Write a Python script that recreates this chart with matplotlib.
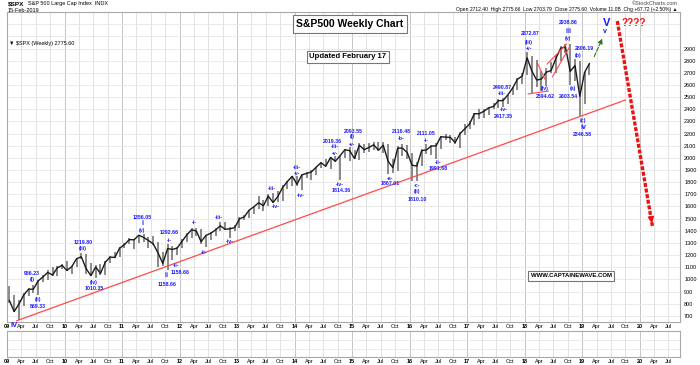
import matplotlib.pyplot as plt
import numpy as np

plt.rcParams['font.family'] = ['Liberation Sans', 'DejaVu Sans']

# monthly $SPX bars, Jan 2009 .. Feb 2019
highs = [943.85, 875.01, 832.98, 888.70, 930.17, 956.23, 996.68, 1039.47, 1080.15, 1101.36, 1113.69, 1130.38,
         1150.45, 1112.42, 1180.16, 1219.80, 1205.13, 1131.23, 1120.95, 1129.24, 1148.90, 1196.14, 1227.08, 1262.60,
         1302.67, 1344.07, 1332.28, 1366.00, 1370.58, 1345.20, 1356.48, 1307.38, 1229.29, 1292.66, 1277.55, 1269.37,
         1333.47, 1378.04, 1419.15, 1422.38, 1415.32, 1363.46, 1391.74, 1426.68, 1474.51, 1470.96, 1434.27, 1448.00,
         1509.94, 1530.94, 1570.28, 1597.35, 1687.18, 1654.19, 1698.78, 1709.67, 1729.86, 1775.22, 1813.55, 1849.44,
         1850.84, 1867.92, 1883.97, 1897.28, 1924.03, 1968.17, 1991.39, 2005.04, 2019.26, 2018.19, 2075.76, 2093.55,
         2064.43, 2119.59, 2117.52, 2125.92, 2134.72, 2129.87, 2132.82, 2112.66, 1993.48, 2094.32, 2116.48, 2104.27,
         2038.20, 1962.96, 2072.21, 2111.05, 2103.48, 2120.55, 2177.09, 2193.81, 2187.87, 2169.60, 2214.10, 2277.53,
         2300.99, 2371.54, 2400.98, 2398.16, 2418.71, 2453.82, 2484.04, 2490.87, 2519.44, 2582.98, 2657.74, 2694.97,
         2872.87, 2835.96, 2801.90, 2717.49, 2742.24, 2791.47, 2848.03, 2916.50, 2940.91, 2939.86, 2815.15, 2800.18,
         2708.95, 2775.66]
lows = [804.30, 734.52, 666.79, 783.32, 866.10, 888.86, 869.32, 978.51, 991.97, 1029.38, 1029.38, 1085.89,
        1071.59, 1044.50, 1101.91, 1170.69, 1040.78, 1028.33, 1010.91, 1039.70, 1039.70, 1131.87, 1173.00, 1186.60,
        1257.62, 1289.14, 1249.05, 1299.00, 1311.80, 1258.07, 1282.86, 1101.54, 1114.22, 1074.77, 1158.66, 1202.37,
        1258.86, 1310.73, 1340.03, 1357.38, 1291.98, 1266.74, 1325.41, 1354.65, 1396.56, 1403.28, 1343.35, 1398.11,
        1426.19, 1485.01, 1501.48, 1536.03, 1581.28, 1560.33, 1604.57, 1627.47, 1633.41, 1646.47, 1746.20, 1767.99,
        1770.45, 1737.92, 1834.44, 1814.36, 1859.79, 1915.98, 1930.67, 1904.78, 1964.04, 1820.66, 2001.01, 1972.56,
        1988.12, 1980.90, 2039.69, 2048.38, 2067.93, 2056.32, 2044.02, 1867.01, 1871.91, 1893.70, 2019.39, 1993.26,
        1812.29, 1810.10, 1937.09, 2033.80, 2025.91, 1991.68, 2074.02, 2147.58, 2119.12, 2114.72, 2083.79, 2187.44,
        2233.62, 2271.65, 2322.25, 2328.95, 2352.72, 2405.70, 2407.70, 2417.35, 2446.55, 2520.40, 2557.45, 2605.52,
        2682.36, 2532.69, 2585.89, 2553.80, 2594.62, 2698.95, 2698.95, 2796.34, 2864.12, 2603.54, 2631.09, 2346.58,
        2443.96, 2681.83]
closes = [825.88, 735.09, 797.87, 872.81, 919.14, 919.32, 987.48, 1020.62, 1057.08, 1036.19, 1095.63, 1115.10,
          1073.87, 1104.49, 1169.43, 1186.69, 1089.41, 1030.71, 1101.60, 1049.33, 1141.20, 1183.26, 1180.55, 1257.64,
          1286.12, 1327.22, 1325.83, 1363.61, 1345.20, 1320.64, 1292.28, 1218.89, 1131.42, 1253.30, 1246.96, 1257.60,
          1312.41, 1365.68, 1408.47, 1397.91, 1310.33, 1362.16, 1379.32, 1406.58, 1440.67, 1412.16, 1416.18, 1426.19,
          1498.11, 1514.68, 1569.19, 1597.57, 1630.74, 1606.28, 1685.73, 1632.97, 1681.55, 1756.54, 1805.81, 1848.36,
          1782.59, 1859.45, 1872.34, 1883.95, 1923.57, 1960.23, 1930.67, 2003.37, 1972.29, 2018.05, 2067.56, 2058.90,
          1994.99, 2104.50, 2067.89, 2085.51, 2107.39, 2063.11, 2103.84, 1972.18, 1920.03, 2079.36, 2080.41, 2043.94,
          1940.24, 1932.23, 2059.74, 2065.30, 2096.95, 2098.86, 2173.60, 2170.95, 2168.27, 2126.15, 2198.81, 2238.83,
          2278.87, 2363.64, 2362.72, 2384.20, 2411.80, 2423.41, 2470.30, 2471.65, 2519.36, 2575.26, 2647.58, 2673.61,
          2823.81, 2713.83, 2640.87, 2648.05, 2705.27, 2718.37, 2816.29, 2901.52, 2913.98, 2711.74, 2760.17, 2506.85,
          2704.10, 2775.60]

# Elliott wave labels: (year, price, text, fontsize)
wave_labels = [
    (2009.13, 618, "IV", 5.5), (2009.19, 519, "666.79", 3.8),
    (2009.44, 1045, "956.23", 3.8), (2009.44, 996, "(i)", 3.8),
    (2009.54, 832, "(ii)", 3.8), (2009.54, 774, "869.33", 3.8),
    (2010.32, 1300, "1219.80", 3.8), (2010.32, 1251, "(iii)", 3.8),
    (2010.51, 971, "(iv)", 3.8), (2010.51, 922, "1010.35", 3.8),
    (2011.35, 1506, "1356.05", 3.8), (2011.35, 1457, "i", 5), (2011.35, 1399, "(v)", 3.8),
    (2011.82, 1383, "1292.66", 3.8), (2011.82, 1317, "-i-", 3.8),
    (2011.77, 1029, "ii", 5), (2011.78, 955, "1158.66", 3.8),
    (2011.94, 1111, "-ii-", 3.8), (2012.01, 1054, "1158.66", 3.8),
    (2012.25, 1465, "-i-", 3.8), (2012.43, 1218, "-ii-", 3.8),
    (2012.69, 1506, "-iii-", 3.8), (2012.88, 1309, "-iv-", 3.8),
    (2013.61, 1744, "-iii-", 3.8), (2013.68, 1596, "-iv-", 3.8),
    (2014.04, 1917, "-iii-", 3.8), (2014.04, 1868, "-v-", 3.8),
    (2014.10, 1687, "-iv-", 3.8),
    (2014.65, 2131, "2019.36", 3.8), (2014.70, 2090, "-iii-", 3.8), (2014.71, 2040, "-v-", 3.8),
    (2014.79, 1777, "-iv-", 3.8), (2014.81, 1728, "1814.36", 3.8),
    (2015.02, 2221, "2093.55", 3.8), (2015.00, 2172, "(i)", 3.8), (2015.00, 2114, "-v-", 3.8),
    (2015.85, 2213, "2116.48", 3.8), (2015.85, 2156, "-b-", 3.8),
    (2015.66, 1827, "-a-", 3.8), (2015.66, 1786, "1867.01", 3.8),
    (2016.29, 2197, "2111.05", 3.8), (2016.29, 2139, "-i-", 3.8),
    (2016.13, 1769, "-c-", 3.8), (2016.13, 1720, "(ii)", 3.8), (2016.13, 1654, "1810.10", 3.8),
    (2016.50, 1958, "-ii-", 3.8), (2016.50, 1909, "1991.68", 3.8),
    (2017.61, 2583, "2490.87", 3.8), (2017.61, 2526, "-iii-", 3.8),
    (2017.63, 2394, "-iv-", 3.8), (2017.63, 2337, "2417.35", 3.8),
    (2018.10, 3027, "2872.87", 3.8), (2018.07, 2953, "(iii)", 3.8), (2018.07, 2904, "-v-", 3.8),
    (2018.34, 2567, "(iv)", 3.8), (2018.36, 2501, "2594.62", 3.8),
    (2018.76, 3110, "2938.86", 3.8), (2018.76, 3044, "iii", 5), (2018.76, 2986, "(v)", 3.8),
    (2019.03, 2904, "2806.19", 3.8), (2018.93, 2846, "(b)", 3.8),
    (2018.84, 2567, "(a)", 3.8), (2018.76, 2501, "2603.54", 3.8),
    (2019.02, 2304, "(c)", 3.8), (2019.02, 2254, "iv", 5), (2019.00, 2189, "2346.58", 3.8),
    (2019.42, 3110, "V", 8), (2019.40, 3036, "v", 5),
]

# trend line and wedge lines: ((year0, price0), (year1, price1))
support_line = ((2009.17, 660), (2019.75, 2476))
wedge_lines = [
    ((2018.06, 2526), (2018.41, 2550)),
    ((2018.22, 2781), (2018.36, 2641)),
    ((2018.39, 2772), (2018.73, 2937)),
    ((2018.48, 2665), (2018.77, 2904)),
]
green_arrow = ((2019.19, 2813), (2019.37, 3002))
red_arrow = ((2019.61, 3126), (2020.22, 1440))

years = list(range(2009, 2021))
month_names = ["Apr", "Jul", "Oct"]

t = 2009 + np.arange(len(closes)) / 12 + 1 / 24

fig = plt.figure(figsize=(7, 3.65), dpi=100)
ax = fig.add_axes([0.01, 0.118, 0.9614, 0.849])
ax2 = fig.add_axes([0.01, 0.022, 0.9614, 0.071])

xmin, xmax = 2009.0, 2020.70
tick_pos, tick_lab = [], []
for y in years:
    for q in range(4):
        pos = y + q * 0.25
        if pos > xmax:
            continue
        tick_pos.append(pos)
        tick_lab.append(f"{y % 100:02d}" if q == 0 else month_names[q - 1])

for a in (ax, ax2):
    a.set_xlim(xmin, xmax)
    for p in tick_pos:
        a.axvline(p, color='#c4c4c4' if p == int(p) else '#e2e2e2', lw=0.7, zorder=0)
    a.set_xticks(tick_pos)
    a.set_xticklabels(tick_lab, fontsize=4)
    for lab in a.get_xticklabels():
        if lab.get_text().isdigit():
            lab.set_fontweight('bold')
    a.tick_params(axis='x', length=0, pad=1.5)
    for s in a.spines.values():
        s.set_color('#a8a8a8')
        s.set_linewidth(0.8)

ax.set_ylim(650, 3200)
for lvl in range(700, 3200, 100):
    ax.axhline(lvl, color='#e6e6e6', lw=0.6, zorder=0)
ax.yaxis.tick_right()
ax.set_yticks(range(700, 3000, 100))
ax.tick_params(axis='y', length=0, labelsize=4, pad=3)

ax2.set_ylim(0, 1)
ax2.set_yticks([])
for lvl in (0.3, 0.65):
    ax2.axhline(lvl, color='#e6e6e6', lw=0.6, zorder=0)

# price bars
ax.vlines(t, lows, highs, color='#6a6a6a', lw=1.1, zorder=2)
ax.plot(t, closes, color='#1a1a1a', lw=1.0, zorder=3)

# lines
ax.plot(*zip(*support_line), color='#ff4a4a', lw=0.9, zorder=4)
for seg in wedge_lines:
    ax.plot(*zip(*seg), color='#ff4a4a', lw=0.8, zorder=4)

ax.annotate('', xy=green_arrow[1], xytext=green_arrow[0],
            arrowprops=dict(arrowstyle='-|>', color='#1f7a1f', lw=0.8, ls='--', mutation_scale=7))
ax.plot(*zip(*red_arrow), color='#ee1111', lw=2.4, ls=(0, (1.2, 0.5)), zorder=5)
ax.annotate('', xy=red_arrow[1], xytext=(red_arrow[1][0] - 0.03, red_arrow[1][1] + 90),
            arrowprops=dict(arrowstyle='-|>', color='#ee1111', lw=1, mutation_scale=9), zorder=6)

for x, y, txt, fs in wave_labels:
    ax.text(x, y, txt, color='#1a1aff', fontsize=fs, fontweight='bold',
            ha='center', va='center', clip_on=False, zorder=6)
ax.text(2019.90, 3110, "????", color='#ee1111', fontsize=7, fontweight='bold', ha='center', va='center')

ax.text(2018.81, 1029, "WWW.CAPTAINEWAVE.COM", fontsize=4.3, fontweight='bold', ha='center', va='center',
        bbox=dict(boxstyle='square,pad=0.4', fc='white', ec='#777777', lw=0.8), zorder=7)

# boxes and header
fig.text(0.5, 0.934, "S&P500 Weekly Chart", fontsize=7.5, fontweight='bold', ha='center', va='center',
         bbox=dict(boxstyle='square,pad=0.35', fc='white', ec='#777777', lw=0.8))
fig.text(0.497, 0.844, "Updated February 17", fontsize=5.6, fontweight='bold', ha='center', va='center',
         bbox=dict(boxstyle='square,pad=0.3', fc='white', ec='#777777', lw=0.8))

fig.text(8 / 700, 1 - 4 / 365, "$SPX", fontsize=4.6, fontweight='bold', va='center')
fig.text(28 / 700, 1 - 4 / 365, "S&P 500 Large Cap Index  INDX", fontsize=4, va='center')
fig.text(8 / 700, 1 - 10 / 365, "15-Feb-2019", fontsize=4, va='center')
fig.text(678 / 700, 1 - 3.5 / 365, "©StockCharts.com", fontsize=4, ha='right', va='center', color='#444444')
fig.text(677 / 700, 1 - 10 / 365,
         "Open 2712.40  High 2775.66  Low 2703.79  Close 2775.60  Volume 11.0B  Chg +67.72 (+2.50%) ▲",
         fontsize=3.6, ha='right', va='center')
fig.text(9 / 700, 1 - 43 / 365, "▼ $SPX (Weekly) 2775.60", fontsize=4, va='center')

fig.savefig("out.png", dpi=100)
